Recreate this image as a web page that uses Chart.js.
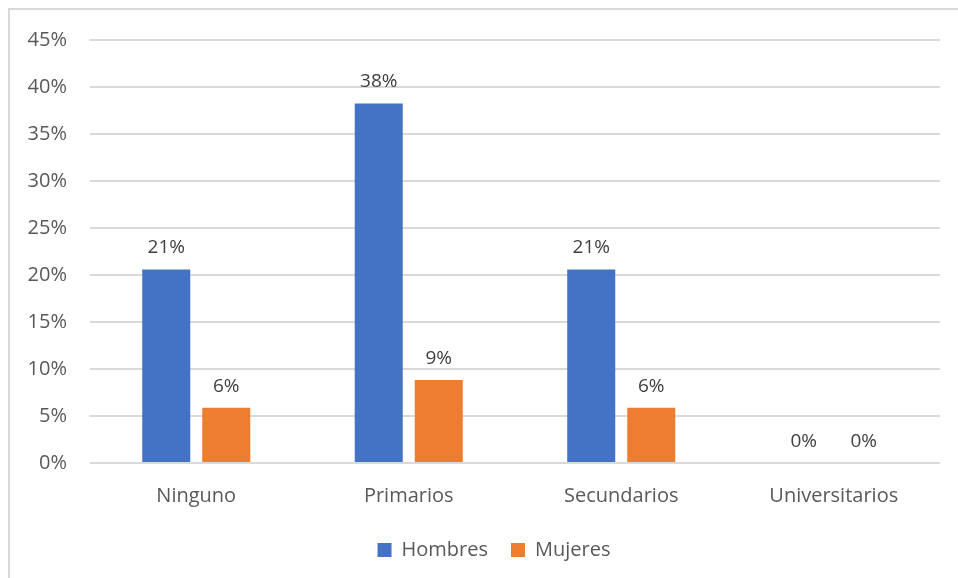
<!DOCTYPE html>
<html>
<head>
<meta charset="utf-8">
<script src="https://cdn.jsdelivr.net/npm/chart.js@4/dist/chart.umd.min.js"></script>
<style>
  html, body { margin: 0; padding: 0; background: #fff; }
  #wrap { position: relative; width: 958px; height: 578px; }
  #frame { position: absolute; left: 8px; top: 8px; right: 0; bottom: 0;
           border-left: 2px solid #d9d9d9; border-top: 2px solid #d9d9d9; }
  canvas { position: absolute; left: 0; top: 0; }
</style>
</head>
<body>
<div id="wrap">
  <div id="frame"></div>
  <canvas id="chart" width="958" height="578"></canvas>
</div>
<script>
// Nivel de estudios por sexo (porcentaje sobre el total)
const categorias = ['Ninguno', 'Primarios', 'Secundarios', 'Universitarios'];
const hombres = [0.2059, 0.3824, 0.2059, 0];
const mujeres = [0.0588, 0.0882, 0.0588, 0];
const yTicks = [0, 0.05, 0.10, 0.15, 0.20, 0.25, 0.30, 0.35, 0.40, 0.45];

const FONT = '"Open Sans", "DejaVu Sans", sans-serif';

function pct(v) {
    return Math.round(v * 100) + '%';
}

// Etiquetas de valor encima de cada barra
const etiquetasBarras = {
    id: 'etiquetasBarras',
    afterDatasetsDraw(chart) {
        const ctx = chart.ctx;
        ctx.save();
        ctx.font = '19px ' + FONT;
        ctx.fillStyle = '#404040';
        ctx.textAlign = 'center';
        ctx.textBaseline = 'bottom';
        chart.data.datasets.forEach((ds, i) => {
            const meta = chart.getDatasetMeta(i);
            meta.data.forEach((bar, j) => {
                ctx.fillText(pct(ds.data[j]), bar.x, bar.y - 12);
            });
        });
        ctx.restore();
    }
};

// Desplaza la leyenda un poco a la derecha y hacia arriba
const moverLeyenda = {
    id: 'moverLeyenda',
    afterLayout(chart) {
        const lg = chart.legend;
        if (lg) {
            lg.left += 11;
            lg.right += 11;
            lg.top -= 4;
            lg.bottom -= 4;
        }
    }
};

const ctx = document.getElementById('chart').getContext('2d');
new Chart(ctx, {
    type: 'bar',
    data: {
        labels: categorias,
        datasets: [
            { label: 'Hombres', data: hombres, backgroundColor: '#4472c4' },
            { label: 'Mujeres', data: mujeres, backgroundColor: '#ed7d31' }
        ]
    },
    options: {
        responsive: false,
        animation: false,
        categoryPercentage: 0.565,
        barPercentage: 0.8,
        layout: { padding: { left: 26, right: 18, top: 40, bottom: 4 } },
        plugins: {
            legend: {
                position: 'bottom',
                labels: {
                    boxWidth: 14,
                    boxHeight: 14,
                    padding: 23,
                    color: '#595959',
                    font: { family: FONT, size: 20 }
                }
            },
            tooltip: { enabled: false }
        },
        scales: {
            x: {
                grid: { display: false },
                border: { display: false },
                ticks: {
                    color: '#595959',
                    padding: 13,
                    font: { family: FONT, size: 20 }
                }
            },
            y: {
                min: 0,
                max: 0.45,
                afterFit(scale) { scale.width = 64; },
                afterBuildTicks(scale) {
                    scale.ticks = yTicks.map(v => ({ value: v }));
                },
                grid: { color: '#d9d9d9', lineWidth: 2, drawTicks: false },
                border: { display: false },
                ticks: {
                    color: '#595959',
                    padding: 23,
                    font: { family: FONT, size: 20 },
                    callback: v => pct(v)
                }
            }
        }
    },
    plugins: [etiquetasBarras, moverLeyenda]
});
</script>
</body>
</html>
